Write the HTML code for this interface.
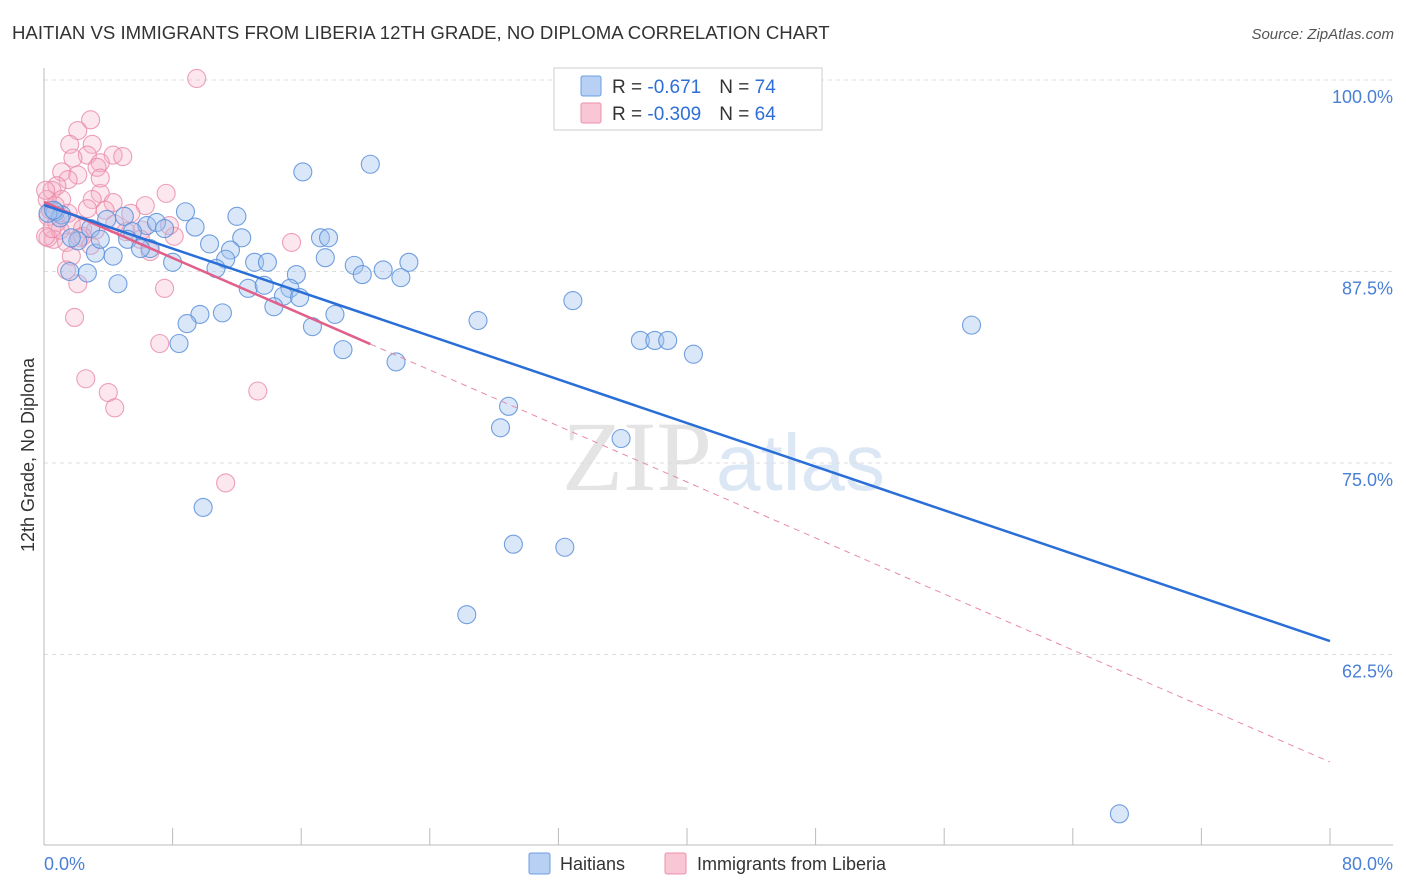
<!DOCTYPE html>
<html><head><meta charset="utf-8"><style>
body{margin:0;background:#fff;font-family:"Liberation Sans",sans-serif;}
svg{display:block}
</style></head><body>
<svg id="chart" width="1406" height="892">
<text x="12" y="39" font-size="18.6" fill="#333">HAITIAN VS IMMIGRANTS FROM LIBERIA 12TH GRADE, NO DIPLOMA CORRELATION CHART</text>
<text x="1394" y="39" font-size="15" fill="#555" font-style="italic" text-anchor="end">Source: ZipAtlas.com</text>
<text x="712" y="490" font-size="100" fill="#e4e4e4" font-family="Liberation Serif" text-anchor="end">ZIP</text>
<text x="716" y="490" font-size="80" fill="#dce7f5">atlas</text>
<g id="grid"></g>
<g id="axes"></g>
<g id="pink"></g>
<g id="blue"></g>
<g id="lines"></g>
<text transform="translate(34,455) rotate(-90)" font-size="18" fill="#333" text-anchor="middle">12th Grade, No Diploma</text>
<text x="44" y="870" font-size="18" fill="#4a7fd6">0.0%</text>
<text x="1393" y="870" font-size="18" fill="#4a7fd6" text-anchor="end">80.0%</text>
<g>
<rect x="554" y="68" width="268" height="62" fill="#fff" stroke="#ccc"/>
<rect x="581" y="76" width="20" height="20" fill="#b8d0f3" stroke="#6d9de0" rx="2"/>
<rect x="581" y="103" width="20" height="20" fill="#f9c6d5" stroke="#ec8fab" rx="2"/>
<text x="612" y="93" font-size="19" fill="#333">R = <tspan fill="#2d6fd6"> -0.671</tspan><tspan dx="18">N = </tspan><tspan fill="#2d6fd6">74</tspan></text>
<text x="612" y="120" font-size="19" fill="#333">R = <tspan fill="#2d6fd6">-0.309</tspan><tspan dx="18">N = </tspan><tspan fill="#2d6fd6">64</tspan></text>
</g>
<g>
<rect x="529" y="853" width="21" height="21" fill="#b8d0f3" stroke="#6d9de0" rx="2"/>
<text x="560" y="870" font-size="18" fill="#333">Haitians</text>
<rect x="665" y="853" width="21" height="21" fill="#f9c6d5" stroke="#ec8fab" rx="2"/>
<text x="697" y="870" font-size="18" fill="#333">Immigrants from Liberia</text>
</g>
</svg>
<script>
const blueX=[20.3,16.1,8.8,12.0,5.0,3.9,1.1,0.7,6.4,7.0,7.5,9.4,2.9,5.5,5.2,10.3,12.3,11.6,6.6,6.0,2.1,3.2,4.3,8.0,11.3,13.1,13.9,10.7,17.2,17.7,17.5,19.3,19.8,21.1,22.2,22.7,15.7,1.6,2.7,4.6,12.7,13.7,15.3,14.9,15.9,14.3,18.1,16.7,11.1,9.7,8.9,8.4,18.6,21.9,27.0,32.9,37.1,38.0,38.8,40.4,57.7,28.9,28.4,35.9,9.9,29.2,32.4,26.3,66.9,1.0,0.25,0.6,3.5,1.7];
const blueY=[94.5,94.0,91.4,91.1,91.1,90.9,91.2,91.4,90.5,90.7,90.3,90.4,90.3,90.1,89.6,89.3,89.7,88.9,89.0,89.0,89.5,88.7,88.5,88.1,88.3,88.1,88.1,87.7,89.7,89.7,88.4,87.9,87.3,87.6,87.1,88.1,87.3,87.5,87.4,86.7,86.4,86.6,86.4,85.9,85.8,85.2,84.7,83.9,84.8,84.7,84.1,82.8,82.4,81.6,84.3,85.6,83.0,83.0,83.0,82.1,84.0,78.7,77.3,76.6,72.1,69.7,69.5,65.1,52.1,91.0,91.3,91.5,89.6,89.7];
const pinkX=[9.5,2.9,2.1,1.6,3.0,4.3,4.9,2.7,3.5,1.8,3.3,1.1,2.1,1.5,0.8,0.5,3.5,7.6,3.0,4.3,6.3,1.1,0.2,0.7,5.4,0.25,0.8,1.7,2.4,3.2,5.1,6.1,8.1,15.4,0.6,0.25,1.4,2.4,6.6,1.7,1.4,2.1,7.5,1.9,7.2,2.6,4.0,4.4,13.3,11.3,0.4,1.0,0.1,1.5,3.8,2.2,0.5,4.4,7.8,6.0,2.9,3.5,0.1,2.7];
const pinkY=[100.1,97.4,96.7,95.8,95.8,95.1,95.0,95.1,94.6,94.9,94.3,94.0,93.8,93.5,93.1,92.8,92.6,92.6,92.2,92.0,91.8,92.2,92.2,91.8,91.3,91.1,90.7,90.6,90.3,90.2,90.1,90.2,89.8,89.4,89.6,89.7,89.4,89.8,88.8,88.5,87.6,86.7,86.4,84.5,82.8,80.5,79.6,78.6,79.7,73.7,91.5,90.2,89.8,91.3,91.5,89.7,90.3,90.6,90.5,89.6,89.2,93.6,92.8,91.6];
const yTicks=[100,87.5,75,62.5];
const yTickLabels=["100.0%","87.5%","75.0%","62.5%"];
const xTicks=[0,8,16,24,32,40,48,56,64,72,80];
const blueTrend=[91.84,-0.3558];
const pinkTrend=[92.04,-0.457];
const pinkSolidEnd=20.3;

const NS="http://www.w3.org/2000/svg";
const sx=v=>44+v*(1286/80);
const sy=v=>80+(100-v)*15.32;
function mk(tag,attrs,parent){const e=document.createElementNS(NS,tag);for(const k in attrs)e.setAttribute(k,attrs[k]);document.getElementById(parent).appendChild(e);return e;}
yTicks.forEach((t,i)=>{
  const g=mk('line',{x1:44,x2:1393,y1:sy(t),y2:sy(t),stroke:'#ddd','stroke-dasharray':'4,4'},'grid');
  
  
  const l=mk('text',{x:1393,y:sy(t)+23,'font-size':18,fill:'#4a7fd6','text-anchor':'end'},'grid');
  l.textContent=yTickLabels[i];
  
  
});
const ax=mk('line',{x1:44,x2:44,y1:68,y2:845,stroke:'#bbb'},'axes');


const bx=mk('line',{x1:44,x2:1393,y1:845,y2:845,stroke:'#bbb'},'axes');


xTicks.forEach(t=>{
  const k=mk('line',{x1:sx(t),x2:sx(t),y1:828,y2:845,stroke:'#bbb'},'axes');
  
  
});
pinkX.forEach((x,i)=>{
  const c=mk('circle',{cx:sx(x),cy:sy(pinkY[i]),r:9,fill:'rgba(246,175,199,0.3)',stroke:'rgba(234,136,166,0.8)','stroke-width':1.1},'pink');
  
  
});
blueX.forEach((x,i)=>{
  const c=mk('circle',{cx:sx(x),cy:sy(blueY[i]),r:9,fill:'rgba(160,195,240,0.4)',stroke:'rgba(91,143,217,0.85)','stroke-width':1.1},'blue');
  
  
});
const f=(tr,x)=>tr[0]+tr[1]*x;
const pd=mk('line',{x1:sx(pinkSolidEnd),y1:sy(f(pinkTrend,pinkSolidEnd)),x2:sx(80),y2:sy(f(pinkTrend,80)),stroke:'#e88aa6','stroke-width':1,'stroke-dasharray':'6,5'},'lines');


const ps=mk('line',{x1:sx(0),y1:sy(f(pinkTrend,0)),x2:sx(pinkSolidEnd),y2:sy(f(pinkTrend,pinkSolidEnd)),stroke:'#e0608a','stroke-width':2.5},'lines');


const bl=mk('line',{x1:sx(0),y1:sy(f(blueTrend,0)),x2:sx(80),y2:sy(f(blueTrend,80)),stroke:'#2a6fd8','stroke-width':2.5},'lines');


</script>
</body></html>
